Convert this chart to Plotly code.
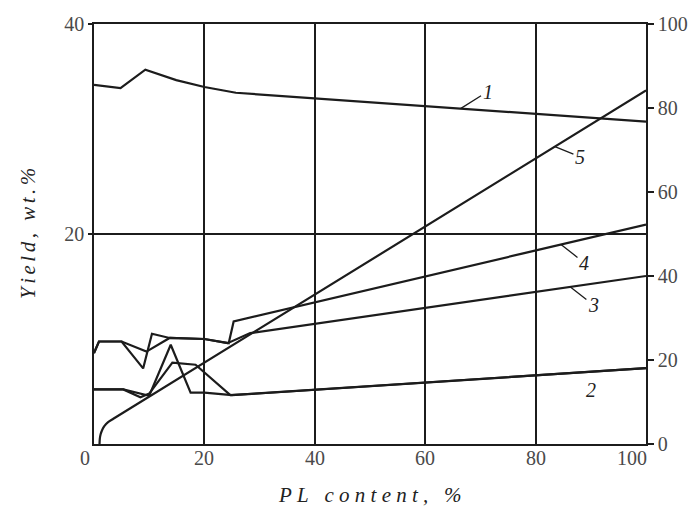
import plotly.graph_objects as go

# ---- data ----
pl_1 = [0, 4.8, 9.3, 14.9, 20, 25.7, 100]
yield_1 = [34.2, 33.9, 35.65, 34.66, 34.0, 33.45, 30.7]

pl_2a = [0, 5.3, 10.0, 13.9, 17.5, 20, 25, 100]
yield_2a = [5.2, 5.2, 4.6, 9.45, 4.9, 4.9, 4.65, 7.22]
pl_2b = [0, 5.3, 8.4, 10.0, 14.2, 18.4, 24.7, 100]
yield_2b = [5.2, 5.2, 4.45, 4.8, 7.75, 7.55, 4.65, 7.22]

pl_3 = [0, 0.9, 5.0, 9.5, 13.7, 20, 24.2, 28.3, 100]
yield_3 = [8.65, 9.76, 9.76, 8.8, 10.1, 10.0, 9.6, 10.56, 16.0]

pl_4 = [0, 0.9, 5.0, 8.9, 10.5, 13.7, 20, 24.4, 25.3, 100]
yield_4 = [8.65, 9.76, 9.76, 7.2, 10.5, 10.1, 10.0, 9.6, 11.67, 20.9]

# curve 5 on the right-hand scale
pl_5 = [1.0, 1.05, 1.2, 1.5, 1.9, 2.5, 3.5, 100]
yield_5 = [0, 1.2, 2.3, 3.4, 4.3, 5.15, 6.0, 84.2]

x_ticks = [0, 20, 40, 60, 80, 100]
x_tick_labels = ["0", "20", "40", "60", "80", "100"]
y_left_ticks = [20, 40]
y_right_ticks = [0, 20, 40, 60, 80, 100]

# curve labels: (name, x on curve, y on curve, axis)
curve_labels = ["1", "2", "3", "4", "5"]
label_x = [66.4, 85.9, 86.3, 84.6, 83.5]
label_y = [31.94, 6.74, 14.96, 19.0, 70.8]
label_axis = ["y", "y", "y", "y", "y2"]
label_dx = [27, 23, 23, 23, 25]
label_dy = [-17, 17, 18, 18, 10]

LINE = "#1c1c1c"
SERIF = "Liberation Serif"
TICKC = "#4a4a4a"

fig = go.Figure()
line_style = dict(color=LINE, width=2.2)
for xs, ys in [(pl_1, yield_1), (pl_2a, yield_2a), (pl_2b, yield_2b),
               (pl_3, yield_3), (pl_4, yield_4)]:
    fig.add_trace(go.Scatter(x=xs, y=ys, mode="lines", line=line_style,
                             showlegend=False, hoverinfo="skip"))
fig.add_trace(go.Scatter(x=pl_5, y=yield_5, mode="lines",
                         line=dict(color=LINE, width=2.2, shape="spline", smoothing=0.6),
                         yaxis="y2", showlegend=False, hoverinfo="skip"))

annotations = []
for name, lx, ly, ax_, dx, dy in zip(curve_labels, label_x, label_y, label_axis, label_dx, label_dy):
    annotations.append(dict(
        x=lx, y=ly, xref="x", yref=ax_, text=name, showarrow=True,
        arrowhead=0, arrowwidth=1.3, arrowcolor=LINE, ax=dx, ay=dy,
        standoff=0,
        font=dict(family=SERIF, size=20, color="#222", style="italic")))

for v, t in zip(x_ticks, x_tick_labels):
    shift = -9 if v == x_ticks[0] else (-14 if v == x_ticks[-1] else 0)
    annotations.append(dict(
        x=v, y=0, xref="x", yref="paper", yanchor="top", xanchor="center",
        yshift=-1, xshift=shift, text=t, showarrow=False,
        font=dict(family=SERIF, size=20, color=TICKC)))

def spaced(s, sep):
    return sep.join(list(s))

annotations.append(dict(
    x=0.5, y=0, xref="paper", yref="paper", yanchor="top", yshift=-37,
    text=spaced("PL content, %", "\u2005"), showarrow=False,
    font=dict(family=SERIF, size=21, color="#222", style="italic")))
annotations.append(dict(
    x=0, y=0.5, xref="paper", yref="paper", xanchor="right", xshift=-52,
    text=spaced("Yield, wt.%", "\u2006"), showarrow=False, textangle=-90,
    font=dict(family=SERIF, size=21, color="#222", style="italic")))

fig.update_layout(
    width=700, height=506,
    margin=dict(l=94, r=50, t=24, b=62),
    plot_bgcolor="white", paper_bgcolor="white",
    xaxis=dict(range=[0, 100], tickvals=x_ticks, showticklabels=False,
               ticks="", showgrid=True, gridcolor=LINE, gridwidth=1.5,
               showline=True, linecolor=LINE, linewidth=1.6, mirror=True,
               zeroline=False),
    yaxis=dict(range=[0, 40], tickvals=y_left_ticks, ticks="outside",
               ticklen=4, tickcolor=LINE, tickwidth=1.5,
               tickfont=dict(family=SERIF, size=20, color=TICKC),
               showgrid=True, gridcolor=LINE, gridwidth=1.5,
               showline=True, linecolor=LINE, linewidth=1.6, mirror=True,
               zeroline=False),
    yaxis2=dict(range=[0, 100], tickvals=y_right_ticks, overlaying="y",
                side="right", ticks="outside", ticklen=6, tickcolor=LINE,
                tickwidth=1.5, showgrid=False, zeroline=False,
                tickfont=dict(family=SERIF, size=20, color=TICKC),
                showline=True, linecolor=LINE, linewidth=1.6),
    annotations=annotations,
)

fig.write_html("out.html")
